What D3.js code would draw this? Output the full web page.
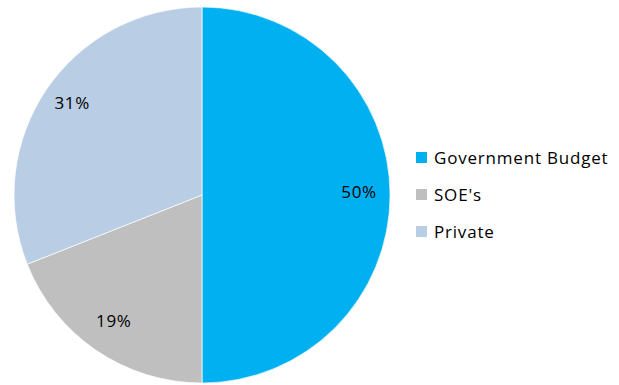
<!DOCTYPE html>
<html>
<head>
<meta charset="utf-8">
<script src="https://cdn.jsdelivr.net/npm/d3@7"></script>
<style>
  body { margin: 0; background: #fff; }
  svg text { font-family: "Open Sans", "Noto Sans", sans-serif; fill: #000; }
</style>
</head>
<body>
<svg id="chart" width="619" height="385"></svg>
<script>
(function () {
  'use strict';

  const categories = ['Government Budget', "SOE's", 'Private'];
  const shares = [50, 19, 31];
  const colours = ['#00B0F0', '#BFBFBF', '#B9CDE5'];

  const svg = d3.select('#chart');
  const cx = 202, cy = 195, radius = 188;

  const pie = d3.pie().sort(null).value(d => d.value);
  const arcs = pie(categories.map((c, i) => ({ name: c, value: shares[i] })));

  const arc = d3.arc().innerRadius(0).outerRadius(radius);
  const labelArc = d3.arc().innerRadius(157).outerRadius(157);

  const g = svg.append('g').attr('transform', `translate(${cx},${cy})`);

  g.selectAll('path').data(arcs)
    .enter().append('path')
    .attr('d', arc)
    .attr('fill', (d, i) => colours[i])
    .attr('stroke', '#fff')
    .attr('stroke-width', 0.7);

  g.selectAll('text').data(arcs)
    .enter().append('text')
    .attr('transform', d => {
      const [x, y] = labelArc.centroid(d);
      return `translate(${x},${y - 4})`;
    })
    .attr('text-anchor', 'middle')
    .attr('dominant-baseline', 'central')
    .style('font-size', '17px')
    .style('letter-spacing', '0.6px')
    .text(d => d.data.value + '%');

  // legend
  const legend = svg.append('g').attr('transform', 'translate(416,152)');
  const color = d3.scaleOrdinal().domain(categories).range(colours);
  const rows = legend.selectAll('g').data(categories)
    .enter().append('g')
    .attr('transform', (d, i) => `translate(0,${i * 37})`);
  rows.append('rect')
    .attr('width', 11).attr('height', 11)
    .attr('fill', d => color(d));
  rows.append('text')
    .attr('x', 18).attr('y', 5)
    .attr('dominant-baseline', 'central')
    .style('font-size', '17px')
    .style('letter-spacing', '0.8px')
    .text(d => d);
}());
</script>
</body>
</html>
